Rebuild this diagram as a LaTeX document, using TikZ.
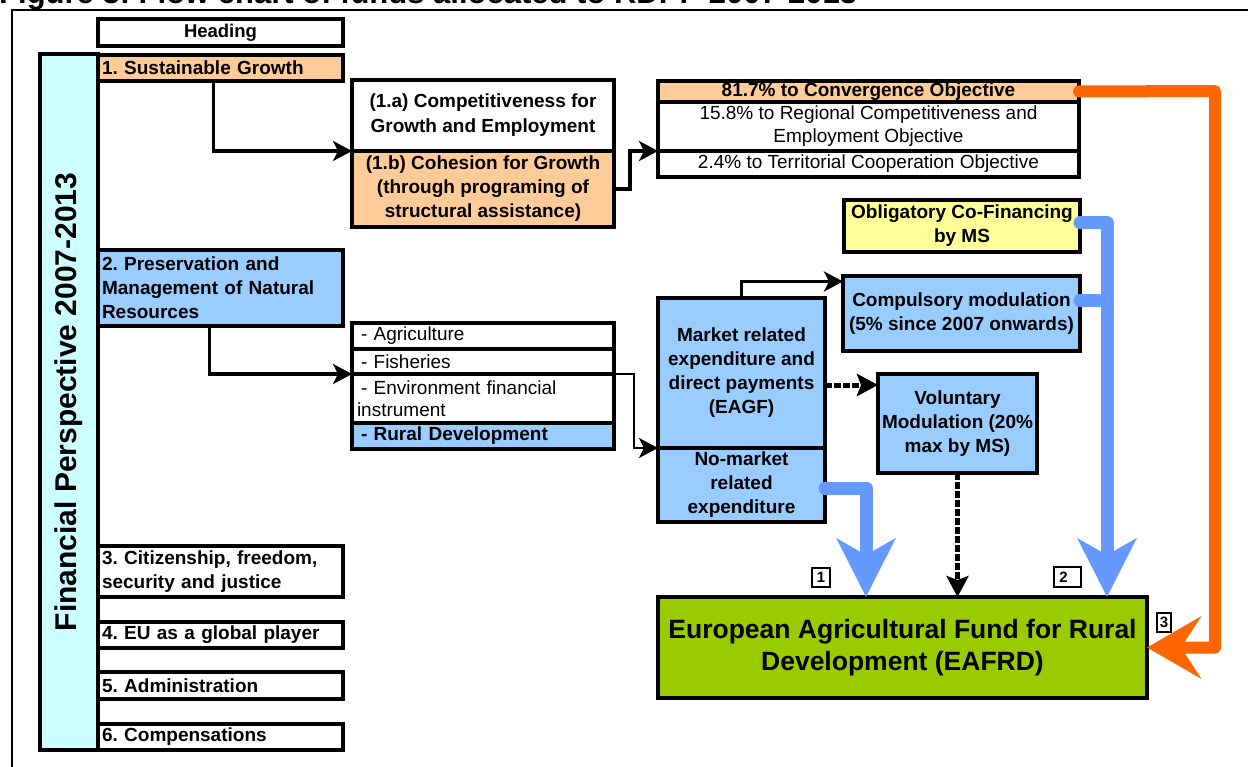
\documentclass[tikz,border=0pt]{standalone}
\usepackage{xcolor}
\usepackage{fontspec}
\setmainfont{Liberation Sans}
\usepackage{tikz}
\usetikzlibrary{arrows.meta}
\frenchspacing

\definecolor{peach}{HTML}{FFCC99}
\definecolor{skyfill}{HTML}{99CCFF}
\definecolor{cyanbar}{HTML}{CCFFFF}
\definecolor{paleyellow}{HTML}{FFFF99}
\definecolor{fundgreen}{HTML}{99CC00}
\definecolor{flowblue}{HTML}{6699FF}
\definecolor{floworange}{HTML}{FF6600}

\tikzset{
  cell/.style={draw, line width=3.5pt, outer sep=0pt, anchor=north west, inner xsep=2pt, inner ysep=0pt,
    align=center, font=\fontsize{19}{24}\selectfont\bfseries},
  catbox/.style={cell, minimum width=245pt, text width=237pt, inner xsep=4pt, align=left},
  listrow/.style={cell, minimum width=262pt, text width=252pt, inner xsep=5pt, align=left,
    font=\fontsize{19}{22}\selectfont},
  numbox/.style={draw, line width=1.5pt, inner sep=0pt, font=\fontsize{15}{15}\selectfont\bfseries},
  arr/.style={line width=3.5pt, -{Stealth[length=19pt,width=20pt,inset=5pt]}},
  thinarr/.style={line width=1.5pt, -{Stealth[length=19pt,width=20pt,inset=5pt]}},
  dotarr/.style={line width=5pt, dash pattern=on 7pt off 2pt, -{Stealth[length=21pt,width=22pt,inset=4pt]}},
  bluearr/.style={draw=flowblue, line width=13pt, line cap=round, line join=round,
    -{Stealth[length=58pt,width=58pt,inset=16pt]}},
  bluestub/.style={draw=flowblue, line width=13pt, line cap=round},
  orangearr/.style={draw=floworange, line width=12pt, line cap=round, line join=round,
    -{Stealth[length=54pt,width=62pt,inset=20pt]}}
}

\begin{document}
\begin{tikzpicture}[x=1pt,y=-1pt]
\useasboundingbox (0,0) rectangle (1248,767);
\node[anchor=base west, inner sep=0pt, font=\fontsize{31}{31}\selectfont\bfseries] (title) at (-1,3.5)
  {Figure 3: Flow chart of funds allocated to RDPP 2007-2013};
\draw[line width=1.5pt] (12,10) rectangle (1262,780);

% headings of the financial perspective
\node[cell, fill=cyanbar, anchor=center, rotate=90, minimum width=696pt, minimum height=58pt,
  font=\fontsize{30}{36}\selectfont\bfseries] (fp) at (69,402) {Financial Perspective 2007-2013};
\node[cell, minimum width=245pt, minimum height=27pt, font=\fontsize{18.5}{22}\selectfont\bfseries] (hd) at (98,19) {Heading};
\node[catbox, fill=peach, minimum height=26pt] (sg) at (98,55) {1. Sustainable Growth};
\node[catbox, fill=skyfill, minimum height=76pt] (nat) at (98,250) {2. Preservation and\\Management of Natural\\Resources};
\node[catbox, minimum height=51pt] (cit) at (98,546) {3. Citizenship, freedom,\\security and justice};
\node[catbox, minimum height=26pt] (glob) at (98,622) {4. EU as a global player};
\node[catbox, minimum height=27pt] (adm) at (98,672) {5. Administration};
\node[catbox, minimum height=26pt] (cmp) at (98,724) {6. Compensations};

% cohesion and objectives
\node[cell, minimum width=262pt, minimum height=71pt, font=\fontsize{19}{25}\selectfont\bfseries] (ca) at (352,80)
  {(1.a) Competitiveness for\\Growth and Employment};
\node[cell, fill=peach, minimum width=262pt, minimum height=76pt] (cb) at (352,151)
  {(1.b) Cohesion for Growth\\(through programing of\\structural assistance)};
\node[cell, fill=peach, minimum width=421pt, minimum height=21pt] (conv) at (658,81) {81.7\% to Convergence Objective};
\node[cell, minimum width=421pt, minimum height=49pt, font=\fontsize{19}{23}\selectfont] (reg) at (658,102)
  {15.8\% to Regional Competitiveness and\\Employment Objective};
\node[cell, minimum width=421pt, minimum height=26pt, font=\fontsize{19}{23}\selectfont] (terr) at (658,151)
  {2.4\% to Territorial Cooperation Objective};

% natural resources
\node[listrow, minimum height=26pt] (agr) at (352,323) {\hspace*{4pt}- Agriculture};
\node[listrow, minimum height=25pt] (fish) at (352,349) {\hspace*{4pt}- Fisheries};
\node[listrow, minimum height=49pt] (env) at (352,374) {\hspace*{4pt}- Environment financial\\instrument};
\node[listrow, fill=skyfill, minimum height=26pt, font=\fontsize{19}{22}\selectfont\bfseries] (rd) at (352,423)
  {\hspace*{4pt}- Rural Development};
\node[cell, fill=skyfill, minimum width=167pt, minimum height=150pt] (mkt) at (658,298)
  {Market related\\expenditure and\\direct payments\\(EAGF)};
\node[cell, fill=skyfill, minimum width=167pt, minimum height=74pt] (nomkt) at (658,448)
  {No-market\\related\\expenditure};
\node[cell, fill=paleyellow, minimum width=236pt, minimum height=52pt] (obl) at (844,200)
  {Obligatory Co-Financing\\by MS};
\node[cell, fill=skyfill, minimum width=237pt, minimum height=75pt] (cmod) at (843,276)
  {Compulsory modulation\\(5\% since 2007 onwards)};
\node[cell, fill=skyfill, minimum width=159pt, minimum height=99pt] (vmod) at (878,374)
  {Voluntary\\Modulation (20\%\\max by MS)};
\node[cell, fill=fundgreen, minimum width=489pt, minimum height=101pt, font=\fontsize{26.5}{32}\selectfont\bfseries] (fund) at (658,597)
  {European Agricultural Fund for Rural\\Development (EAFRD)};

\node[numbox, minimum width=18pt, minimum height=19pt] (n1) at (821,577.5) {1};
\node[numbox, minimum width=27pt, minimum height=20pt] (n2) at (1067.5,577) {2\hspace*{8pt}};
\node[numbox, minimum width=14pt, minimum height=19pt] (n3) at (1164,622.5) {3};

% connectors
\draw[arr] ([xshift=-7pt]sg.south) |- (ca.south west);
\draw[arr] (cb.east) -- ++(16,0) |- (reg.south west);
\draw[arr] ([xshift=-11pt]nat.south) |- (fish.south west);
\draw[thinarr] (fish.south east) -- ++(20,0) |- (mkt.south west);
\draw[arr] (mkt.north) |- ([yshift=32pt]cmod.west);
\draw[dotarr] ([yshift=-12pt]mkt.east) -- ([yshift=-12pt]mkt.east -| vmod.west);
\draw[dotarr] (vmod.south) -- (vmod.south |- fund.north);

\coordinate (b1) at (866,488);
\coordinate (b2) at (1107,223);
\coordinate (oc) at (1215,91);
\draw[bluearr] (nomkt.east |- b1) -- (b1) -- (b1 |- fund.north);
\draw[bluearr] (obl.east |- b2) -- (b2) -- (b2 |- fund.north);
\draw[bluestub] ([yshift=13pt]cmod.east) -- ([yshift=13pt]cmod.east -| b2);
\draw[orangearr] (conv.east) -- (oc) -- (oc |- fund.east) -- (fund.east);
\end{tikzpicture}
\end{document}
